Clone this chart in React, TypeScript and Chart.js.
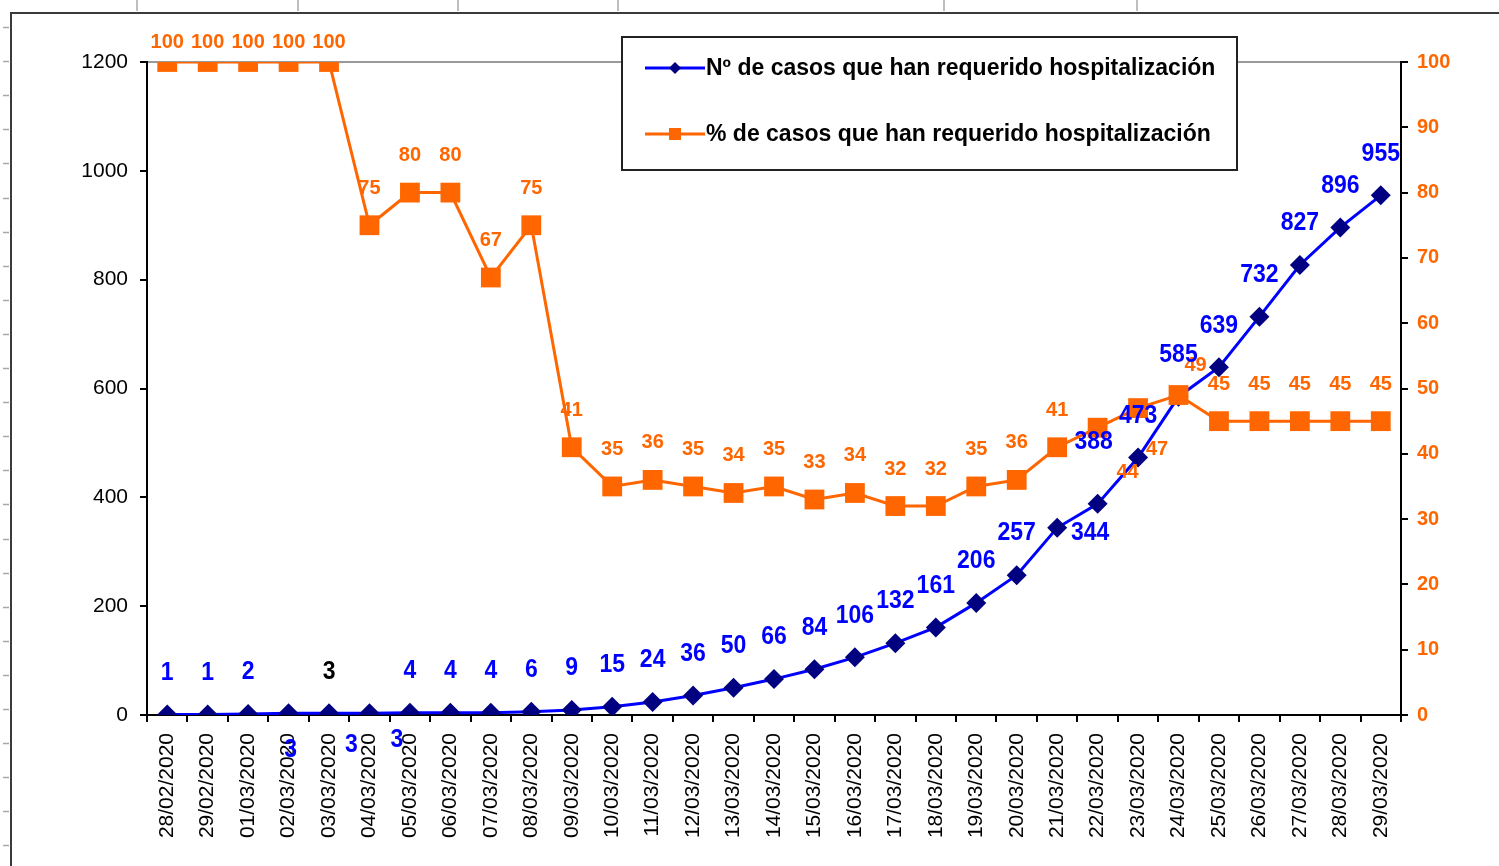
import React, { useEffect, useRef } from "react";
import { Chart, registerables } from "chart.js";

Chart.register(...registerables);

const dates = [
  "28/02/2020", "29/02/2020", "01/03/2020", "02/03/2020", "03/03/2020", "04/03/2020",
  "05/03/2020", "06/03/2020", "07/03/2020", "08/03/2020", "09/03/2020", "10/03/2020",
  "11/03/2020", "12/03/2020", "13/03/2020", "14/03/2020", "15/03/2020", "16/03/2020",
  "17/03/2020", "18/03/2020", "19/03/2020", "20/03/2020", "21/03/2020", "22/03/2020",
  "23/03/2020", "24/03/2020", "25/03/2020", "26/03/2020", "27/03/2020", "28/03/2020",
  "29/03/2020",
];

const hospitalCases = [
  1, 1, 2, 3, 3, 3, 4, 4, 4, 6, 9, 15, 24, 36, 50, 66, 84, 106, 132, 161, 206, 257,
  344, 388, 473, 585, 639, 732, 827, 896, 955,
];

const hospitalPct = [
  100, 100, 100, 100, 100, 75, 80, 80, 67, 75, 41, 35, 36, 35, 34, 35, 33, 34, 32, 32,
  35, 36, 41, 44, 47, 49, 45, 45, 45, 45, 45,
];

const casesLabel = "Nº de casos que han requerido hospitalización";
const pctLabel = "% de casos que han requerido hospitalización";

const leftMin = 0;
const leftMax = 1200;
const leftStep = 200;
const rightMin = 0;
const rightMax = 100;
const rightStep = 10;

const BLUE = "#0000FF";
const NAVY = "#000080";
const ORANGE = "#FF6600";
const FONT = "'Liberation Sans', Arial, sans-serif";

// label placement tweaks (pixel offsets of text centre relative to the point)
const blueOffsets: Record<number, [number, number]> = {
  3: [2, 36],
  5: [-18, 31],
  22: [33, 5],
  23: [-4, -62],
};
const orangeOffsets: Record<number, [number, number]> = {
  0: [0, -20], 1: [0, -20], 2: [0, -20], 3: [0, -20], 4: [0, -20],
  23: [30, 45],
  24: [19, 41],
  25: [17, -30],
};

const framePlugin = {
  id: "frame",
  beforeDraw(chart: any) {
    const ctx = chart.ctx;
    const W = chart.width;
    const H = chart.height;
    ctx.save();
    ctx.fillStyle = "#ffffff";
    ctx.fillRect(0, 0, W, H);
    // spreadsheet artefacts
    ctx.strokeStyle = "#a8a8a8";
    ctx.lineWidth = 1.5;
    [137, 298, 458, 618, 944, 1137].forEach((x) => {
      ctx.beginPath();
      ctx.moveTo(x, 0);
      ctx.lineTo(x, 11);
      ctx.stroke();
    });
    for (let y = 27; y < H; y += 34.1) {
      ctx.beginPath();
      ctx.moveTo(3, Math.round(y) + 0.5);
      ctx.lineTo(9, Math.round(y) + 0.5);
      ctx.stroke();
    }
    ctx.strokeStyle = "#3a3a3a";
    ctx.lineWidth = 2;
    ctx.beginPath();
    ctx.moveTo(W, 13);
    ctx.lineTo(11, 13);
    ctx.lineTo(11, H);
    ctx.stroke();
    ctx.restore();
  },
};

function drawTall(ctx: CanvasRenderingContext2D, text: string, x: number, y: number, sy: number) {
  ctx.save();
  ctx.translate(x, y);
  ctx.scale(1, sy);
  ctx.fillText(text, 0, 0);
  ctx.restore();
}

const labelsPlugin = {
  id: "pointLabels",
  afterDatasetsDraw(chart: any) {
    const ctx = chart.ctx;
    ctx.save();
    ctx.textAlign = "center";
    ctx.textBaseline = "middle";
    // orange labels
    const metaO = chart.getDatasetMeta(1);
    ctx.font = `bold 20px ${FONT}`;
    ctx.fillStyle = ORANGE;
    metaO.data.forEach((pt: any, i: number) => {
      const [dx, dy] = orangeOffsets[i] || [0, -37];
      drawTall(ctx, String(hospitalPct[i]), pt.x + dx, pt.y + dy, 1.0);
    });
    // blue labels
    const metaB = chart.getDatasetMeta(0);
    ctx.font = `bold 23px ${FONT}`;
    metaB.data.forEach((pt: any, i: number) => {
      const [dx, dy] = blueOffsets[i] || [0, -42];
      ctx.fillStyle = i === 4 ? "#000000" : BLUE;
      drawTall(ctx, String(hospitalCases[i]), pt.x + dx, pt.y + dy, 1.15);
    });
    // stray duplicate label visible in the original near 05/03
    const p6 = metaB.data[6];
    if (p6) {
      ctx.fillStyle = BLUE;
      drawTall(ctx, String(hospitalCases[5]), p6.x - 13, p6.y + 27, 1.15);
    }
    ctx.restore();
  },
};

const legendPlugin = {
  id: "boxLegend",
  afterDraw(chart: any) {
    const ctx = chart.ctx;
    const x = 622, y = 37, w = 615, h = 133;
    ctx.save();
    ctx.fillStyle = "#ffffff";
    ctx.fillRect(x, y, w, h);
    ctx.strokeStyle = "#222222";
    ctx.lineWidth = 2;
    ctx.strokeRect(x, y, w, h);
    const items = [
      { label: casesLabel, color: BLUE, marker: NAVY, style: "diamond", cy: 68 },
      { label: pctLabel, color: ORANGE, marker: ORANGE, style: "square", cy: 134 },
    ];
    items.forEach((it) => {
      ctx.strokeStyle = it.color;
      ctx.lineWidth = 3;
      ctx.beginPath();
      ctx.moveTo(645, it.cy);
      ctx.lineTo(705, it.cy);
      ctx.stroke();
      ctx.fillStyle = it.marker;
      ctx.beginPath();
      if (it.style === "diamond") {
        ctx.moveTo(675, it.cy - 6);
        ctx.lineTo(681, it.cy);
        ctx.lineTo(675, it.cy + 6);
        ctx.lineTo(669, it.cy);
        ctx.closePath();
        ctx.fill();
      } else {
        ctx.fillRect(669, it.cy - 6, 12, 12);
      }
      ctx.fillStyle = "#000000";
      ctx.font = `bold 23px ${FONT}`;
      ctx.textAlign = "left";
      ctx.textBaseline = "middle";
      ctx.fillText(it.label, 706, it.cy + 1);
    });
    ctx.restore();
  },
};

export default function App() {
  const canvasRef = useRef<HTMLCanvasElement | null>(null);

  useEffect(() => {
    if (!canvasRef.current) return;
    const chart = new Chart(canvasRef.current, {
      type: "line",
      data: {
        labels: dates,
        datasets: [
          {
            label: casesLabel,
            data: hospitalCases,
            yAxisID: "y",
            borderColor: BLUE,
            backgroundColor: NAVY,
            borderWidth: 3,
            pointStyle: "rectRot",
            pointRadius: 10,
            pointBackgroundColor: NAVY,
            pointBorderColor: NAVY,
            pointBorderWidth: 0,
            tension: 0,
            order: 2,
          },
          {
            label: pctLabel,
            data: hospitalPct,
            yAxisID: "y1",
            borderColor: ORANGE,
            backgroundColor: ORANGE,
            borderWidth: 3,
            pointStyle: "rect",
            pointRadius: 14,
            pointBackgroundColor: ORANGE,
            pointBorderColor: ORANGE,
            pointBorderWidth: 0,
            tension: 0,
            order: 1,
          },
        ],
      },
      options: {
        animation: false,
        responsive: false,
        devicePixelRatio: 1,
        layout: { padding: { top: 62, left: 0, right: 0, bottom: 0 } },
        plugins: {
          legend: { display: false },
          tooltip: { enabled: false },
          title: { display: false },
        },
        scales: {
          x: {
            type: "category",
            offset: true,
            grid: {
              offset: true,
              drawOnChartArea: false,
              drawTicks: true,
              tickLength: 7,
              tickColor: "#000000",
              lineWidth: 2,
            },
            border: { color: "#000000", width: 2 },
            ticks: {
              autoSkip: false,
              minRotation: 90,
              maxRotation: 90,
              padding: 11,
              color: "#000000",
              font: { family: FONT, size: 21 },
            },
            afterFit: (s: any) => {
              s.height = 151;
            },
          },
          y: {
            position: "left",
            min: leftMin,
            max: leftMax,
            ticks: {
              stepSize: leftStep,
              color: "#000000",
              padding: 12,
              font: { family: FONT, size: 21 },
              callback: (v: any) => String(v),
            },
            grid: {
              color: (c: any) => (c.tick && c.tick.value === leftMax ? "#9a9a9a" : "rgba(0,0,0,0)"),
              tickColor: "#000000",
              tickLength: 7,
              lineWidth: 2,
            },
            border: { color: "#000000", width: 2 },
            afterFit: (s: any) => {
              s.width = 147;
            },
          },
          y1: {
            position: "right",
            min: rightMin,
            max: rightMax,
            ticks: {
              stepSize: rightStep,
              color: ORANGE,
              padding: 9,
              font: { family: FONT, size: 20, weight: "bold" },
              callback: (v: any) => String(v),
            },
            grid: {
              drawOnChartArea: false,
              tickColor: "#000000",
              tickLength: 7,
              lineWidth: 2,
            },
            border: { color: "#000000", width: 2 },
            afterFit: (s: any) => {
              s.width = 98;
            },
          },
        },
      },
      plugins: [framePlugin, labelsPlugin, legendPlugin],
    } as any);
    return () => chart.destroy();
  }, []);

  return (
    <div style={{ position: "absolute", left: 0, top: 0, width: 1499, height: 866 }}>
      <canvas ref={canvasRef} width={1499} height={866} style={{ display: "block" }} />
    </div>
  );
}
